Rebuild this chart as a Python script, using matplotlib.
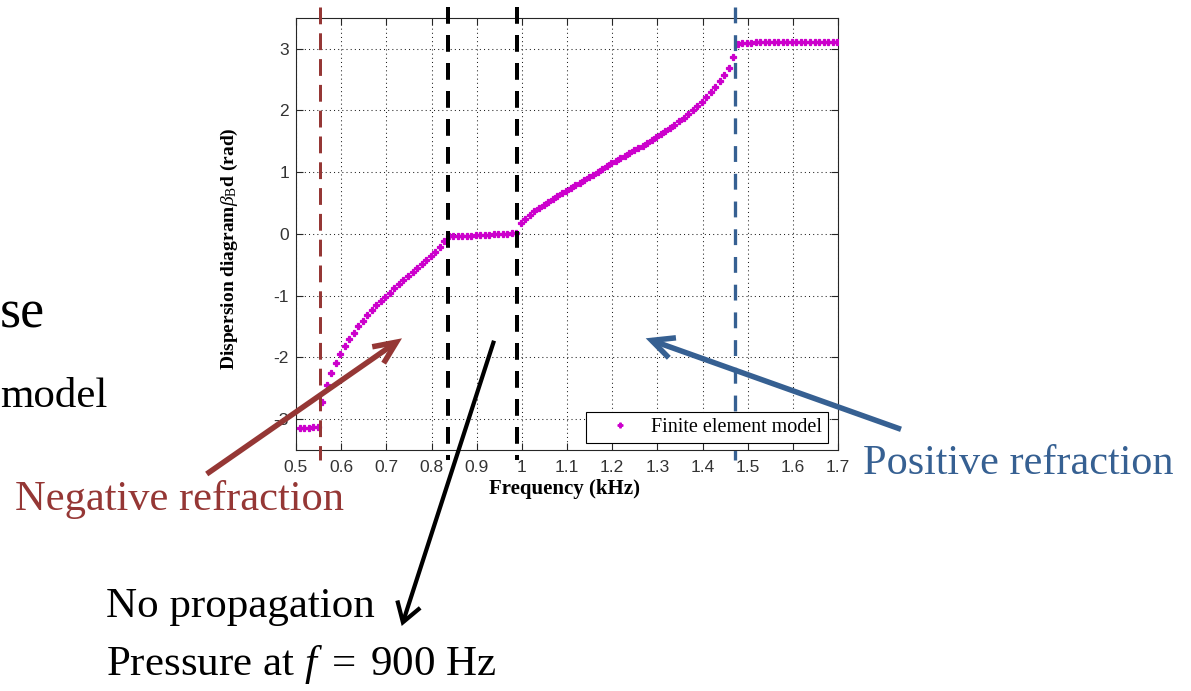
import matplotlib
matplotlib.use('Agg')
import matplotlib.pyplot as plt
from matplotlib.patches import FancyArrowPatch
from matplotlib.font_manager import FontProperties

plt.rcParams['mathtext.fontset'] = 'custom'
plt.rcParams['mathtext.rm'] = 'Liberation Serif'
plt.rcParams['mathtext.it'] = 'Liberation Serif:italic'
plt.rcParams['mathtext.bf'] = 'Liberation Serif:bold'

# ---------------- data ----------------
freq_khz = [
    0.508, 0.518, 0.528, 0.538, 0.548, 0.558, 0.568, 0.578, 0.588, 0.598,
    0.608, 0.618, 0.628, 0.638, 0.648, 0.658, 0.668, 0.678, 0.688, 0.698,
    0.708, 0.718, 0.728, 0.738, 0.748, 0.758, 0.768, 0.778, 0.788, 0.798,
    0.808, 0.818, 0.828, 0.838, 0.848, 0.858, 0.868, 0.878, 0.888, 0.898,
    0.908, 0.918, 0.928, 0.938, 0.948, 0.958, 0.968, 0.978, 0.988, 0.998,
    1.008, 1.018, 1.028, 1.038, 1.048, 1.058, 1.068, 1.078, 1.088, 1.098,
    1.108, 1.118, 1.128, 1.138, 1.148, 1.158, 1.168, 1.178, 1.188, 1.198,
    1.208, 1.218, 1.228, 1.238, 1.248, 1.258, 1.268, 1.278, 1.288, 1.298,
    1.308, 1.318, 1.328, 1.338, 1.348, 1.358, 1.368, 1.378, 1.388, 1.398,
    1.408, 1.418, 1.428, 1.438, 1.448, 1.458, 1.468, 1.478, 1.488, 1.498,
    1.508, 1.518, 1.528, 1.538, 1.548, 1.558, 1.568, 1.578, 1.588, 1.598,
    1.608, 1.618, 1.628, 1.638, 1.648, 1.658, 1.668, 1.678, 1.688, 1.698,
]

beta_d = [
    # first stop band (~ -pi)
    -3.15, -3.14, -3.14, -3.13, -3.13,
    # negative-refraction branch
    -2.73, -2.44, -2.26, -2.09, -1.94, -1.82, -1.71, -1.60, -1.50, -1.41,
    -1.32, -1.24, -1.16, -1.09, -1.02, -0.95, -0.88, -0.81, -0.75, -0.69,
    -0.62, -0.56, -0.49, -0.43, -0.36, -0.29, -0.22, -0.11,
    # no-propagation band (~ 0)
    -0.04, -0.03, -0.03, -0.03, -0.03, -0.03, -0.02, -0.02, -0.02, -0.02,
    -0.01, -0.01, 0.00, 0.00, 0.01, 0.01,
    # positive-refraction branch
    0.17, 0.245, 0.31, 0.37, 0.42, 0.47, 0.52, 0.57, 0.61, 0.655,
    0.70, 0.74, 0.785, 0.83, 0.87, 0.915, 0.96, 1.005, 1.05, 1.095,
    1.14, 1.18, 1.225, 1.265, 1.31, 1.35, 1.39, 1.43, 1.475, 1.52,
    1.565, 1.61, 1.66, 1.71, 1.76, 1.82, 1.88, 1.94, 2.01, 2.07,
    2.14, 2.22, 2.30, 2.38, 2.47, 2.57, 2.69, 2.86,
    # upper stop band (~ +pi)
    3.07, 3.09, 3.09, 3.09, 3.10, 3.10, 3.10, 3.10, 3.10, 3.10,
    3.10, 3.10, 3.10, 3.10, 3.10, 3.10, 3.10, 3.10, 3.10, 3.10,
    3.10, 3.10, 3.10,
]

x_ticks = [0.5, 0.6, 0.7, 0.8, 0.9, 1.0, 1.1, 1.2, 1.3, 1.4, 1.5, 1.6, 1.7]
x_tick_labels = ['0.5', '0.6', '0.7', '0.8', '0.9', '1', '1.1', '1.2',
                 '1.3', '1.4', '1.5', '1.6', '1.7']
y_ticks = [-3, -2, -1, 0, 1, 2, 3]
y_tick_labels = ['-3', '-2', '-1', '0', '1', '2', '3']

band_edges_khz = [0.553, 0.836, 0.989, 1.473]
band_edge_colors = ['#953735', '#000000', '#000000', '#366092']

RED = '#953735'
BLUE = '#366092'
MAGENTA = '#cc00cc'

# ---------------- figure ----------------
W, H = 1191, 691
fig = plt.figure(figsize=(W / 100, H / 100), dpi=100)
fig.patch.set_facecolor('white')


def fx(px):
    return px / W


def fy(py):
    return 1 - py / H


ax = fig.add_axes([fx(296), fy(450), 542 / W, 432.3 / H])
ax.plot(freq_khz, beta_d, ls='none', marker='P', ms=5.0, mew=0.9,
        mec=MAGENTA, mfc=MAGENTA, color=MAGENTA,
        label='Finite element model', zorder=3)

ax.set_xlim(0.5, 1.7)
ax.set_ylim(-3.5, 3.5)
ax.set_xticks(x_ticks)
ax.set_xticklabels(x_tick_labels)
ax.set_yticks(y_ticks)
ax.set_yticklabels(y_tick_labels)

tick_font = FontProperties(family='Liberation Sans', size=12.5)
for lab in ax.get_xticklabels() + ax.get_yticklabels():
    lab.set_fontproperties(tick_font)
    lab.set_color('#333333')
ax.tick_params(direction='in', length=5, width=0.8, top=True, right=True,
               colors='#262626', labelcolor='#333333')
ax.tick_params(axis='x', pad=7)
ax.tick_params(axis='y', pad=5)

ax.grid(True, color='#222222', lw=0.75, linestyle=(0, (1, 3)))
ax.set_axisbelow(True)
for sp in ax.spines.values():
    sp.set_color('#262626')
    sp.set_linewidth(0.8)

ax.set_xlabel('Frequency (kHz)', fontfamily='Liberation Serif',
              fontsize=15, fontweight='bold')
ax.xaxis.set_label_coords(0.496, -0.066)
ax.xaxis.label.set_va('top')
ax.set_ylabel(r'Dispersion diagram$\beta_{\mathrm{B}}$d (rad)',
              fontfamily='Liberation Serif', fontsize=14, fontweight='bold')
ax.yaxis.set_label_coords(-0.103, 0.466)

leg = ax.legend(loc='lower right', bbox_to_anchor=(0.981, 0.0155),
                borderaxespad=0, fancybox=False, framealpha=1,
                edgecolor='black',
                prop=FontProperties(family='Liberation Serif', size=14.5),
                handlelength=2.8, handletextpad=0.1, borderpad=0.3,
                markerscale=0.7)
leg.get_frame().set_linewidth(0.8)

# band-edge dashed lines (extend beyond axes)
xt = ax.get_xaxis_transform()
dash_specs = {
    '#953735': (3.0, (5.6, 3.0)),
    '#000000': (4.0, (4.2, 2.8)),
    '#366092': (3.3, (4.8, 3.6)),
}
for xe, col in zip(band_edges_khz, band_edge_colors):
    lw_px, dashes = dash_specs[col]
    ax.plot([xe, xe], [1.025, -0.023], transform=xt, color=col,
            lw=lw_px * 0.72, dashes=dashes, clip_on=False, zorder=4,
            solid_capstyle='butt', dash_capstyle='butt')


# ---------------- annotations ----------------
def arrow(tail, tip, color, lw_px, hl_px, hw_px):
    ms = 20.0
    ms_px = ms / 0.72
    style = '->,head_length=%.3f,head_width=%.3f' % (hl_px / ms_px, hw_px / ms_px)
    a = FancyArrowPatch((fx(tail[0]), fy(tail[1])), (fx(tip[0]), fy(tip[1])),
                        transform=fig.transFigure, arrowstyle=style,
                        mutation_scale=ms, color=color, lw=lw_px * 0.72,
                        shrinkA=0, shrinkB=0, joinstyle='miter',
                        capstyle='butt', zorder=10)
    fig.patches.append(a)


arrow((206.7, 474.0), (402.0, 338.3), RED, 5.5, 22.5, 10.0)
arrow((901.0, 429.3), (645.7, 338.3), BLUE, 5.5, 22.0, 10.6)
arrow((494.0, 340.7), (401.7, 626.0), 'black', 4.2, 19.0, 12.0)

serif = 'Liberation Serif'
fig.text(fx(15), fy(510), 'Negative refraction', color=RED, fontsize=30.6,
         fontfamily=serif, va='baseline', ha='left')
fig.text(fx(863), fy(474), 'Positive refraction', color=BLUE, fontsize=30.4,
         fontfamily=serif, va='baseline', ha='left')
fig.text(fx(106), fy(616.7), 'No propagation', color='black', fontsize=31,
         fontfamily=serif, va='baseline', ha='left')
fig.text(fx(106), fy(675), r'Pressure at $f\;=\;$900 Hz', color='black',
         fontsize=31, fontfamily=serif, va='baseline', ha='left')
fig.text(fx(0), fy(327), 'se', color='black', fontsize=39,
         fontfamily=serif, va='baseline', ha='left')
fig.text(fx(0), fy(406.7), 'model', color='black', fontsize=31,
         fontfamily=serif, va='baseline', ha='left')

fig.savefig('out.png', dpi=100, facecolor='white')
